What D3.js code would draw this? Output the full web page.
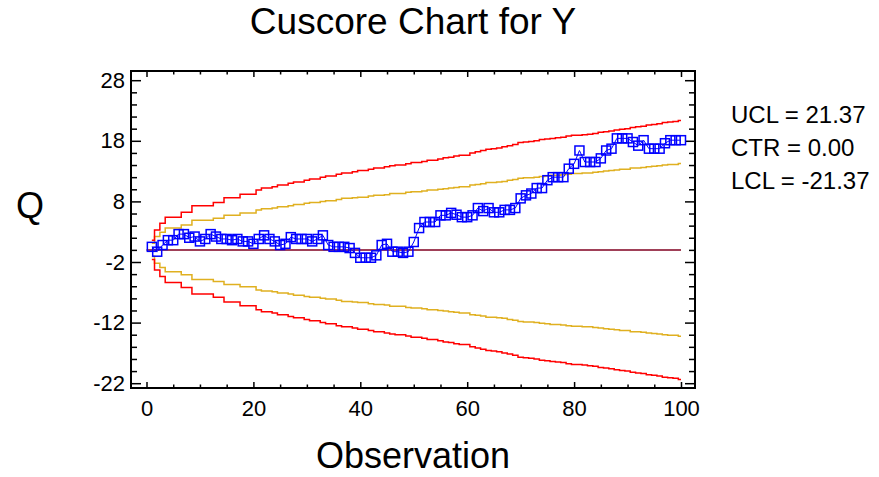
<!DOCTYPE html>
<html><head><meta charset="utf-8">
<script src="https://cdn.jsdelivr.net/npm/d3@7/dist/d3.min.js"></script>
<style>body{margin:0;background:#fff}svg{display:block}text{font-family:"Liberation Sans",Arial,sans-serif;fill:#000}</style>
</head><body><svg id="c" width="879" height="477"></svg>
<script>
// Cuscore statistic Q for observations 1..100
const qValues = [0.5,-0.3,0.8,1.6,1.6,2.6,2.6,2.0,2.2,1.4,
  1.8,2.6,2.2,1.8,1.8,1.6,1.8,1.4,1.4,1.0,
  1.8,2.4,1.8,1.4,0.8,1.0,2.1,1.8,1.8,1.8,
  1.4,1.8,2.4,0.8,0.5,0.5,0.5,0.3,-0.5,-1.3,
  -1.3,-1.3,-0.9,0.8,1.0,-0.3,-0.3,-0.5,-0.3,1.3,
  3.6,4.6,4.6,4.6,5.7,5.7,6.1,5.8,5.4,5.4,
  5.7,6.9,6.4,6.9,6.2,6.2,6.6,6.6,6.9,8.5,
  9.0,9.3,10.2,10.2,11.5,12.0,12.0,12.0,13.4,14.2,
  16.4,14.5,14.5,14.5,15.1,16.4,16.7,18.4,18.4,18.4,
  17.8,17.2,18.1,16.7,16.7,16.7,17.6,18.1,18.1,18.1];
const uclValues = [1.6,3.3,4.4,5.4,5.4,5.4,6.2,6.2,7.3,7.3,
  7.3,7.3,7.8,7.8,8.6,8.6,8.6,9.2,9.2,9.2,
  9.9,10.2,10.2,10.4,10.7,10.7,11.0,11.2,11.2,11.5,
  11.7,11.7,12.0,12.2,12.2,12.5,12.7,12.7,12.9,13.1,
  13.1,13.3,13.5,13.5,13.7,13.9,14.0,14.0,14.2,14.4,
  14.4,14.6,14.8,14.8,15.0,15.2,15.3,15.5,15.6,15.6,
  16.0,16.2,16.4,16.6,16.7,16.8,17.0,17.2,17.4,17.7,
  17.8,17.9,18.0,18.2,18.3,18.4,18.5,18.6,18.8,18.9,
  18.9,19.0,19.1,19.2,19.4,19.5,19.6,19.8,19.9,20.0,
  20.2,20.3,20.4,20.6,20.7,20.8,21.0,21.1,21.2,21.37];
const lclValues = [-1.6,-3.3,-4.4,-5.4,-5.4,-5.4,-6.2,-6.2,-7.3,-7.3,
  -7.3,-7.3,-7.8,-7.8,-8.6,-8.6,-8.6,-9.2,-9.2,-9.2,
  -9.9,-10.2,-10.2,-10.4,-10.7,-10.7,-11.0,-11.2,-11.2,-11.5,
  -11.7,-11.7,-12.0,-12.2,-12.2,-12.5,-12.7,-12.7,-12.9,-13.1,
  -13.1,-13.3,-13.5,-13.5,-13.7,-13.9,-14.0,-14.0,-14.2,-14.4,
  -14.4,-14.6,-14.8,-14.8,-15.0,-15.2,-15.3,-15.5,-15.6,-15.6,
  -16.0,-16.2,-16.4,-16.6,-16.7,-16.8,-17.0,-17.2,-17.4,-17.7,
  -17.8,-17.9,-18.0,-18.2,-18.3,-18.4,-18.5,-18.6,-18.8,-18.9,
  -18.9,-19.0,-19.1,-19.2,-19.4,-19.5,-19.6,-19.8,-19.9,-20.0,
  -20.2,-20.3,-20.4,-20.6,-20.7,-20.8,-21.0,-21.1,-21.2,-21.37];
const uwlValues = [1.1,2.2,2.9,3.6,3.6,3.6,4.1,4.1,4.9,4.9,
  4.9,4.9,5.2,5.2,5.7,5.7,5.7,6.1,6.1,6.1,
  6.6,6.8,6.8,6.9,7.1,7.1,7.3,7.5,7.5,7.7,
  7.8,7.8,8.0,8.1,8.1,8.3,8.5,8.5,8.6,8.7,
  8.7,8.9,9.0,9.0,9.1,9.3,9.3,9.3,9.5,9.6,
  9.6,9.7,9.9,9.9,10.0,10.1,10.2,10.3,10.4,10.4,
  10.7,10.8,10.9,11.1,11.1,11.2,11.3,11.5,11.6,11.8,
  11.9,11.9,12.0,12.1,12.2,12.3,12.3,12.4,12.5,12.6,
  12.6,12.7,12.7,12.8,12.9,13.0,13.1,13.2,13.3,13.3,
  13.5,13.5,13.6,13.7,13.8,13.9,14.0,14.1,14.1,14.25];
const lwlValues = [-1.1,-2.2,-2.9,-3.6,-3.6,-3.6,-4.1,-4.1,-4.9,-4.9,
  -4.9,-4.9,-5.2,-5.2,-5.7,-5.7,-5.7,-6.1,-6.1,-6.1,
  -6.6,-6.8,-6.8,-6.9,-7.1,-7.1,-7.3,-7.5,-7.5,-7.7,
  -7.8,-7.8,-8.0,-8.1,-8.1,-8.3,-8.5,-8.5,-8.6,-8.7,
  -8.7,-8.9,-9.0,-9.0,-9.1,-9.3,-9.3,-9.3,-9.5,-9.6,
  -9.6,-9.7,-9.9,-9.9,-10.0,-10.1,-10.2,-10.3,-10.4,-10.4,
  -10.7,-10.8,-10.9,-11.1,-11.1,-11.2,-11.3,-11.5,-11.6,-11.8,
  -11.9,-11.9,-12.0,-12.1,-12.2,-12.3,-12.3,-12.4,-12.5,-12.6,
  -12.6,-12.7,-12.7,-12.8,-12.9,-13.0,-13.1,-13.2,-13.3,-13.3,
  -13.5,-13.5,-13.6,-13.7,-13.8,-13.9,-14.0,-14.1,-14.1,-14.25];
const centerValue = 0;
const xMajorTicks = [0,20,40,60,80,100];
const xMinorTicks = [5,10,15,25,30,35,45,50,55,65,70,75,85,90,95];
const yMajorTicks = [-22,-12,-2,8,18,28];
const yMinorTicks = [-20,-18,-16,-14,-10,-8,-6,-4,0,2,4,6,10,12,14,16,20,22,24,26];
const legendLines = ["UCL = 21.37","CTR = 0.00","LCL = -21.37"];
const titleText = "Cuscore Chart for Y";
const xTitle = "Observation";
const yTitle = "Q";

const svg = d3.select("#c");
const L = 131, R = 695, T = 71, B = 388;
const x = d3.scaleLinear().domain([0,100]).range([146.5,681]);
const y = d3.scaleLinear().domain([-22,28]).range([383.2,80.2]);
const obs = qValues.map((d,i)=>i+1);
const plain = d => String(d);

function styleAxis(g, fs){
  g.select(".domain").remove();
  g.selectAll("line").attr("stroke","#000").attr("stroke-width",1.5);
  g.selectAll("text").attr("font-size",fs).attr("font-family","'Liberation Sans',Arial,sans-serif").attr("fill","#000");
}
svg.append("g").attr("transform",`translate(0,${B})`)
  .call(d3.axisBottom(x).tickValues(xMajorTicks).tickSize(-6).tickPadding(12).tickFormat(plain))
  .call(g=>styleAxis(g,22));
svg.append("g").attr("transform",`translate(0,${B})`)
  .call(d3.axisBottom(x).tickValues(xMinorTicks).tickSize(-3.5).tickFormat(""))
  .call(g=>styleAxis(g,22));
svg.append("g").attr("transform",`translate(0,${T})`)
  .call(d3.axisTop(x).tickValues(xMajorTicks).tickSize(-6).tickFormat(""))
  .call(g=>styleAxis(g,22));
svg.append("g").attr("transform",`translate(0,${T})`)
  .call(d3.axisTop(x).tickValues(xMinorTicks).tickSize(-3.5).tickFormat(""))
  .call(g=>styleAxis(g,22));
svg.append("g").attr("transform",`translate(${L},0)`)
  .call(d3.axisLeft(y).tickValues(yMajorTicks).tickSize(-10).tickPadding(6).tickFormat(plain))
  .call(g=>styleAxis(g,22));
svg.append("g").attr("transform",`translate(${L},0)`)
  .call(d3.axisLeft(y).tickValues(yMinorTicks).tickSize(-6).tickFormat(""))
  .call(g=>styleAxis(g,22));
svg.append("g").attr("transform",`translate(${R},0)`)
  .call(d3.axisRight(y).tickValues(yMajorTicks).tickSize(-10).tickFormat(""))
  .call(g=>styleAxis(g,22));
svg.append("g").attr("transform",`translate(${R},0)`)
  .call(d3.axisRight(y).tickValues(yMinorTicks).tickSize(-6).tickFormat(""))
  .call(g=>styleAxis(g,22));

// limit lines
const stepLine = d3.line().x((d,i)=>x(obs[i])).y(d=>y(d)).curve(d3.curveStep);
[[uwlValues,"#e0b020"],[lwlValues,"#e0b020"],[uclValues,"#ff0000"],[lclValues,"#ff0000"]].forEach(([vals,col])=>{
  svg.append("path").attr("d",stepLine(vals)).attr("fill","none").attr("stroke",col).attr("stroke-width",1.5);
});
// center line
svg.append("line").attr("x1",x(0)).attr("x2",x(100)).attr("y1",y(centerValue)).attr("y2",y(centerValue))
  .attr("stroke","#800020").attr("stroke-width",1.5);

// data
const dataLine = d3.line().x((d,i)=>x(obs[i])).y(d=>y(d));
svg.append("path").attr("d",dataLine(qValues)).attr("fill","none").attr("stroke","#0000ff").attr("stroke-width",1);
svg.append("g").selectAll("rect").data(qValues).join("rect")
  .attr("x",(d,i)=>x(obs[i])-4.5).attr("y",d=>y(d)-4.5).attr("width",9).attr("height",9)
  .attr("fill","none").attr("stroke","#0000ff").attr("stroke-width",1.5);

// frame
svg.append("rect").attr("x",L).attr("y",T).attr("width",R-L).attr("height",B-T)
  .attr("fill","none").attr("stroke","#000").attr("stroke-width",2);

// titles
svg.append("text").attr("x",413).attr("y",34).attr("text-anchor","middle").attr("font-size",37).text(titleText);
svg.append("text").attr("x",413).attr("y",468).attr("text-anchor","middle").attr("font-size",36).text(xTitle);
svg.append("text").attr("x",30).attr("y",218).attr("text-anchor","middle").attr("font-size",36).text(yTitle);

// legend
svg.append("g").selectAll("text").data(legendLines).join("text")
  .attr("x",731).attr("y",(d,i)=>123+i*33).attr("font-size",24).text(d=>d);
</script></body></html>
